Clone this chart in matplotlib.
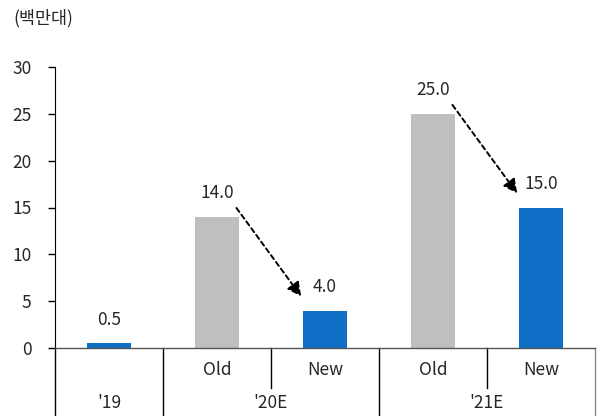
import matplotlib
matplotlib.use("Agg")
from matplotlib import pyplot as plt
from matplotlib.lines import Line2D
import matplotlib.transforms as mtransforms

plt.rcParams['font.family'] = ['Noto Sans CJK KR', 'DejaVu Sans']

# data
sub_labels = ["", "Old", "New", "Old", "New"]
year_labels = ["'19", "'20E", "'21E"]
year_spans = [(0, 0), (1, 2), (3, 4)]
values = [0.5, 14.0, 4.0, 25.0, 15.0]
kinds = ["new", "old", "new", "old", "new"]
arrows = [(1, 2), (3, 4)]   # old index -> new index

blue = "#0F6FC6"
gray = "#BFBFBF"
txt = "#262626"

fig = plt.figure(figsize=(6.01, 4.16), dpi=100)
ax = fig.add_axes([55/601, 1-348/416, 540/601, 281/416])

x = list(range(len(values)))
colors = [blue if k == "new" else gray for k in kinds]
ax.bar(x, values, width=0.4, color=colors, zorder=2)

for xi, v in zip(x, values):
    ax.annotate(f"{v:.1f}", (xi, v), xytext=(0, 17), textcoords="offset points",
                ha="center", va="center", fontsize=12.5, color=txt)

# dashed arrows Old -> New
for i_old, i_new in arrows:
    ax.annotate("", xy=(i_new - 0.22, values[i_new] + 1.5),
                xytext=(i_old + 0.18, values[i_old] + 0.95),
                arrowprops=dict(arrowstyle="-|>", linestyle=(0, (2.5, 1.8)), lw=1.4,
                                color="black", mutation_scale=21, shrinkA=0, shrinkB=0))

ax.set_xlim(-0.5, 4.5)
ax.set_ylim(0, 30)
ax.set_yticks([0, 5, 10, 15, 20, 25, 30])
ax.tick_params(axis="y", direction="out", length=5, width=1, labelsize=12.5,
               labelcolor=txt, pad=12)
ax.set_xticks([])
for s in ["top", "right"]:
    ax.spines[s].set_visible(False)
ax.spines["left"].set_color("black")
ax.spines["bottom"].set_color("#555555")
ax.spines["bottom"].set_linewidth(1)

# multi-level category axis
trans = mtransforms.blended_transform_factory(ax.transData, ax.transAxes)
for xi, lab in zip(x, sub_labels):
    if lab:
        ax.text(xi, -0.078, lab, transform=trans, ha="center", va="center",
                fontsize=12.5, color=txt)
for lab, (a, b) in zip(year_labels, year_spans):
    ax.text((a + b) / 2, -0.196, lab, transform=trans, ha="center", va="center",
            fontsize=12.5, color=txt)

full_seps = [-0.5, 0.5, 2.5]
short_seps = [1.5, 3.5]
for s in full_seps:
    ax.add_line(Line2D([s, s], [0, -0.245], transform=trans, color="black",
                       lw=1, clip_on=False))
for s in short_seps:
    ax.add_line(Line2D([s, s], [0, -0.142], transform=trans, color="black",
                       lw=1, clip_on=False))
ax.add_line(Line2D([4.5, 4.5], [0, -0.245], transform=trans, color="#888888",
                   lw=1, clip_on=False))

fig.text(13/601, 1-18/416, "(백만대)", ha="left", va="center", fontsize=12.5, color=txt)

fig.savefig("out.png", dpi=100)
